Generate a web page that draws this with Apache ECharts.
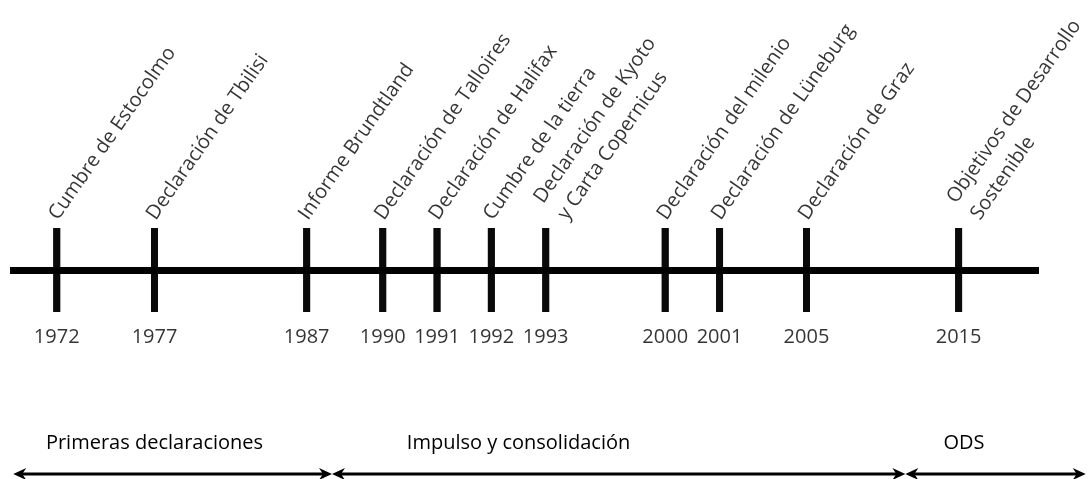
<!DOCTYPE html>
<html>
<head>
<meta charset="utf-8">
<script src="https://cdn.jsdelivr.net/npm/echarts@6/dist/echarts.min.js"></script>
<style>
html, body { margin: 0; padding: 0; background: #fff; }
#main { width: 1088px; height: 479px; }
</style>
</head>
<body>
<div id="main"></div>
<script>
const years = [1972, 1977, 1987, 1990, 1991, 1992, 1993, 2000, 2001, 2005, 2015];
const events = [
  "Cumbre de Estocolmo",
  "Declaración de Tbilisi",
  "Informe Brundtland",
  "Declaración de Talloires",
  "Declaración de Halifax",
  "Cumbre de la tierra",
  "Declaración de Kyoto\ny Carta Copernicus",
  "Declaración del milenio",
  "Declaración de Lüneburg",
  "Declaración de Graz",
  "Objetivos de Desarrollo\nSostenible",
];
const periodNames = ["Primeras declaraciones", "Impulso y consolidación", "ODS"];
const periodStart = [1968, 1988, 2011.5];
const periodEnd = [1988, 2011.5, 2026.7];
const periodLabelYear = [1977, 1992.5, 2015.5];

// the timeline is schematic: every event gets some extra room so close years don't collide
const EVENT_GAP = 4;
const eventPos = years.map((y, i) => y - years[0] + EVENT_GAP * i);

function yearToPos(y) {
  const n = years.length;
  if (y <= years[0]) return y - years[0];
  if (y >= years[n - 1]) return eventPos[n - 1] + (y - years[n - 1]);
  for (let i = 0; i < n - 1; i++) {
    if (y <= years[i + 1]) {
      const t = (y - years[i]) / (years[i + 1] - years[i]);
      return eventPos[i] + t * (eventPos[i + 1] - eventPos[i]);
    }
  }
}

const FONT = "Open Sans";
const chart = echarts.init(document.getElementById("main"));

const tickData = eventPos.map((p) => [p, 0]);
const eventData = eventPos.map((p, i) => {
  const item = { value: [p, 0] };
  if (events[i].indexOf("\n") >= 0) {
    item.label = { position: [32, -2] }; //两行的标签往右挪一点
  }
  return item;
});
const periodData = periodNames.map((name, i) => [
  yearToPos(periodStart[i]),
  yearToPos(periodEnd[i]),
  yearToPos(periodLabelYear[i]),
]);

const option = {
  animation: false,
  grid: { left: 10, right: 49, top: 228, bottom: 167 },
  xAxis: {
    type: "value",
    min: yearToPos(1967.7),
    max: yearToPos(2022.4),
    axisLine: { show: true, onZero: true, lineStyle: { color: "#000", width: 7, cap: "butt" } },
    axisTick: { show: false },
    axisLabel: { show: false },
    splitLine: { show: false },
  },
  yAxis: { type: "value", min: -1, max: 1, show: false },
  series: [
    {
      type: "scatter",
      clip: false,
      symbol: "rect",
      symbolSize: [7, 84],
      itemStyle: { color: "#000" },
      data: tickData,
      label: {
        show: true,
        position: "bottom",
        distance: 15,
        formatter: (p) => String(years[p.dataIndex]),
        fontFamily: FONT,
        fontSize: 20,
        color: "#000",
      },
    },
    {
      type: "scatter",
      clip: false,
      symbol: "rect",
      symbolSize: [7, 84],
      itemStyle: { color: "#000" },
      data: eventData,
      label: {
        show: true,
        position: [12, -2],
        rotate: 55,
        align: "left",
        verticalAlign: "bottom",
        lineHeight: 29,
        formatter: (p) => events[p.dataIndex],
        fontFamily: FONT,
        fontSize: 20,
        color: "#000",
      },
    },
    {
      type: "custom",
      clip: false,
      data: periodData,
      renderItem: (params, api) => {
        const p0 = api.coord([api.value(0), 0]);
        const p1 = api.coord([api.value(1), 0]);
        const pl = api.coord([api.value(2), 0]);
        const y = p0[1] + 204;
        const x0 = p0[0];
        const x1 = p1[0];
        return {
          type: "group",
          children: [
            {
              type: "line",
              shape: { x1: x0 + 8, y1: y, x2: x1 - 8, y2: y },
              style: { stroke: "#000", lineWidth: 3 },
            },
            {
              type: "polygon",
              shape: { points: [[x0, y], [x0 + 13, y - 6], [x0 + 9, y], [x0 + 13, y + 6]] },
              style: { fill: "#000" },
            },
            {
              type: "polygon",
              shape: { points: [[x1, y], [x1 - 13, y - 6], [x1 - 9, y], [x1 - 13, y + 6]] },
              style: { fill: "#000" },
            },
            {
              type: "text",
              x: pl[0],
              y: y - 31,
              style: {
                text: periodNames[params.dataIndex],
                fill: "#000",
                fontFamily: FONT,
                fontSize: 20,
                align: "center",
                verticalAlign: "middle",
                textAlign: "center",
                textVerticalAlign: "middle",
              },
            },
          ],
        };
      },
    },
  ],
};
chart.setOption(option);
</script>
</body>
</html>
